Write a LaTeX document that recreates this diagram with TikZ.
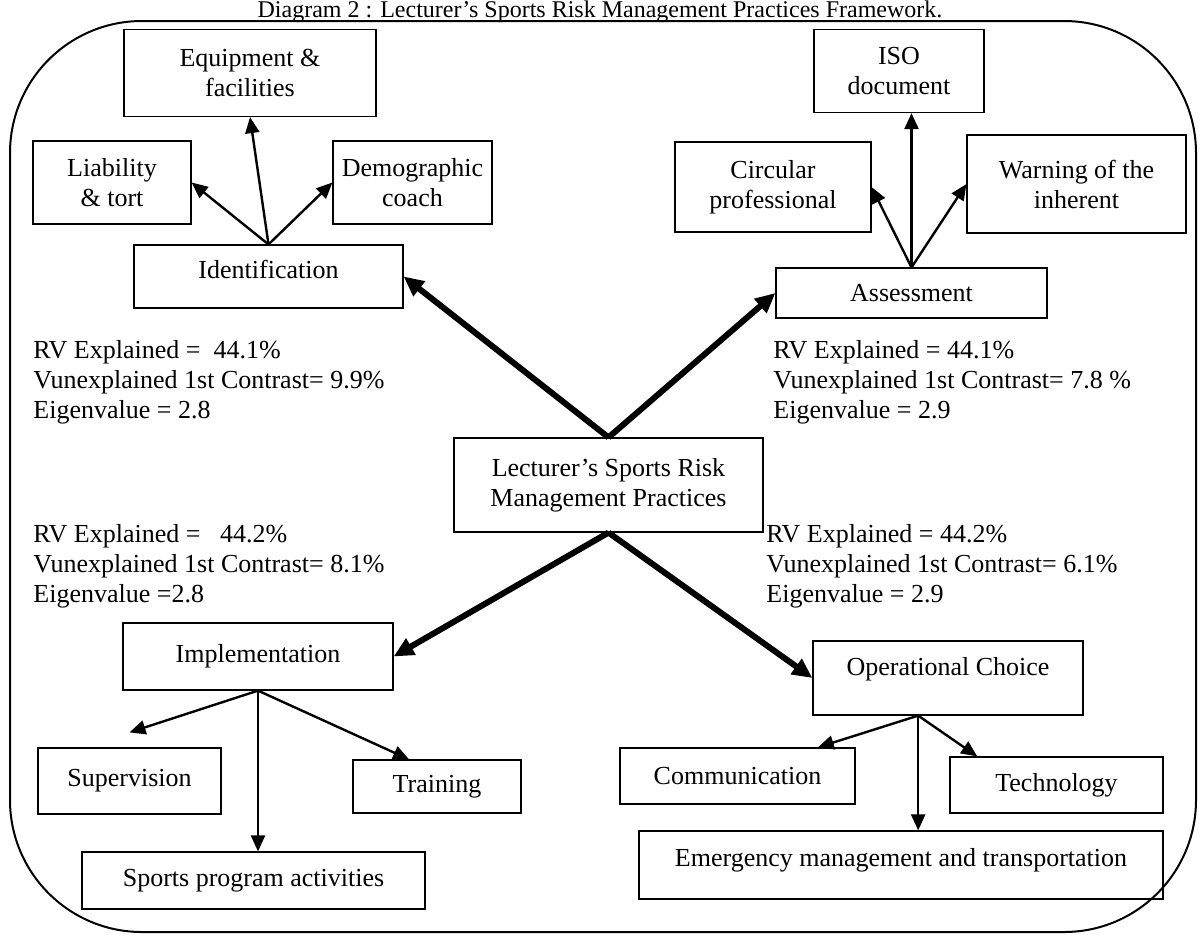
\documentclass[tikz,border=0pt]{standalone}
\usepackage{fontspec}
\setmainfont{Liberation Serif}
\usetikzlibrary{arrows.meta,calc}

\tikzset{
  box/.style={draw, line width=0.6pt, align=center, inner sep=2pt},
  link/.style={-{Triangle[length=8pt,width=7pt]}, line width=1.2pt},
  mainlink/.style={-{Triangle[length=10pt,width=9pt]}, line width=3pt},
  stats/.style={anchor=north west, align=left, inner sep=0pt}
}

\begin{document}
\begin{tikzpicture}[x=0.5pt, y=-0.5pt, font=\fontsize{13}{15}\selectfont]
  \useasboundingbox (0,0) rectangle (1199,934);
  \node[anchor=base, inner sep=0pt, font=\fontsize{12}{14}\selectfont] (title) at (600,17) {Diagram 2 : Lecturer's Sports Risk Management Practices Framework.};
  \draw[line width=1pt, rounded corners=66pt] (10,21) rectangle (1196,932);

  % centre
  \node[box, minimum width=154.5pt, minimum height=47pt] (core) at (608.5,485) {Lecturer's Sports Risk\\Management Practices};

  % identification
  \node[box, minimum width=134.5pt, minimum height=31.5pt, text depth=7pt] (ident) at (268.5,276.5) {Identification};
  \node[box, minimum width=126pt, minimum height=43.5pt] (equip) at (250,73) {Equipment \&\\facilities};
  \node[box, minimum width=79pt, minimum height=41.5pt] (liab) at (112,182.5) {Liability\\\& tort};
  \node[box, minimum width=79.5pt, minimum height=41.5pt] (demo) at (412.5,182.5) {Demographic\\coach};

  % assessment
  \node[box, minimum width=135.5pt, minimum height=25pt] (assess) at (911.5,293) {Assessment};
  \node[box, minimum width=85pt, minimum height=41.5pt] (iso) at (899,71) {ISO\\document};
  \node[box, minimum width=98pt, minimum height=45pt] (circ) at (773,187) {Circular\\professional};
  \node[box, minimum width=109.5pt, minimum height=49pt] (warn) at (1076.5,184) {Warning of the\\inherent};

  % implementation
  \node[box, minimum width=135pt, minimum height=33.5pt] (impl) at (258,656.5) {Implementation};
  \node[box, minimum width=91.5pt, minimum height=33pt] (superv) at (129.5,781) {Supervision};
  \node[box, minimum width=84pt, minimum height=26.5pt] (train) at (437,786.5) {Training};
  \node[box, minimum width=171.5pt, minimum height=28.5pt] (sports) at (253.5,880.5) {Sports program activities};

  % operational choice
  \node[box, minimum width=135pt, minimum height=37pt, text depth=12pt] (oper) at (948,678) {Operational Choice};
  \node[box, minimum width=117.5pt, minimum height=28pt] (comm) at (737.5,776) {Communication};
  \node[box, minimum width=106.5pt, minimum height=28pt] (tech) at (1056.5,785) {Technology};
  \node[box, minimum width=262pt, minimum height=34pt, text depth=8pt] (emerg) at (901,865) {Emergency management and transportation};

  % statistics
  \node[stats] (statsI) at (33,340) {RV Explained =\ \ 44.1\%\\Vunexplained 1st Contrast= 9.9\%\\Eigenvalue = 2.8};
  \node[stats] (statsA) at (773,340) {RV Explained = 44.1\%\\Vunexplained 1st Contrast= 7.8 \%\\Eigenvalue = 2.9};
  \node[stats] (statsM) at (33,524) {RV Explained =\ \ \ 44.2\%\\Vunexplained 1st Contrast= 8.1\%\\Eigenvalue =2.8};
  \node[stats] (statsO) at (766,524) {RV Explained = 44.2\%\\Vunexplained 1st Contrast= 6.1\%\\Eigenvalue = 2.9};

  % main arrows
  \draw[mainlink] (core.north) -- (ident.east);
  \draw[mainlink] (core.north) -- (assess.west);
  \draw[mainlink] (core.south) -- (impl.east);
  \draw[mainlink] (core.south) -- (oper.west);

  % sub arrows
  \draw[link] (ident.north) -- (equip.south);
  \draw[link] (ident.north) -- (liab.east);
  \draw[link] (ident.north) -- (demo.west);

  \draw[link] (assess.north) -- (assess.north |- iso.south);
  \draw[link] (assess.north) -- (circ.east);
  \draw[link] (assess.north) -- (warn.west);

  \draw[link] (impl.south) -- ([yshift=7.5pt]superv.north);
  \draw[link] (impl.south) -- ($(train.north)!0.33!(train.north west)$);
  \draw[link] (impl.south) -- (impl.south |- sports.north);

  \coordinate (opfoot) at ($(oper.south)!0.22!(oper.south west)$);
  \draw[link] (opfoot) -- ($(comm.north)!0.68!(comm.north east)$);
  \draw[link] (opfoot) -- ($(tech.north)!0.74!(tech.north west)$);
  \draw[link] (opfoot) -- (opfoot |- emerg.north);
\end{tikzpicture}
\end{document}
